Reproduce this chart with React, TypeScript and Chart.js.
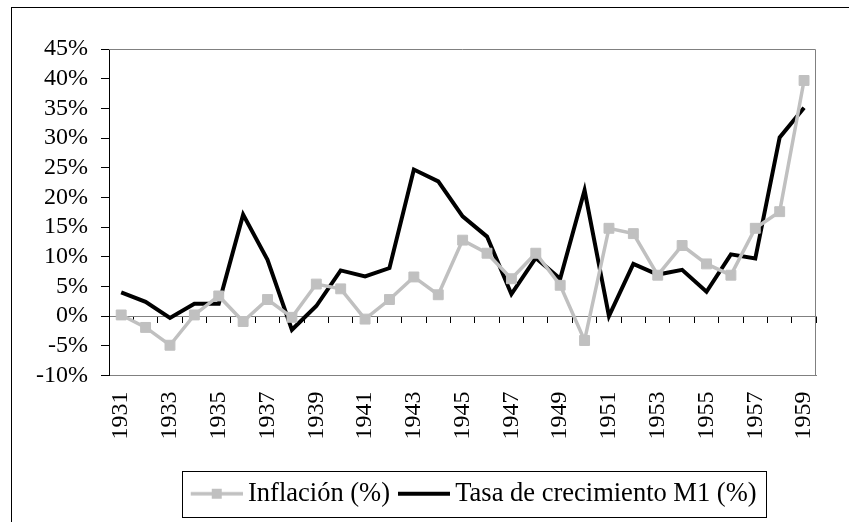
import React, { useEffect, useRef } from 'react';
import { Chart, registerables } from 'chart.js';

Chart.register(...registerables);

const years = [
  '1931', '1932', '1933', '1934', '1935', '1936', '1937', '1938', '1939', '1940',
  '1941', '1942', '1943', '1944', '1945', '1946', '1947', '1948', '1949', '1950',
  '1951', '1952', '1953', '1954', '1955', '1956', '1957', '1958', '1959',
];

const inflation = [
  0.2, -1.9, -4.9, 0.2, 3.4, -0.9, 2.8, -0.2, 5.4, 4.6,
  -0.5, 2.8, 6.6, 3.6, 12.8, 10.6, 6.3, 10.6, 5.2, -4.1,
  14.8, 13.9, 6.9, 11.9, 8.8, 6.9, 14.8, 17.6, 39.7,
];

const m1Growth = [
  4.0, 2.4, -0.3, 2.1, 2.1, 17.1, 9.5, -2.3, 1.7, 7.7,
  6.7, 8.1, 24.7, 22.7, 16.8, 13.4, 3.7, 9.8, 6.3, 21.2,
  0.0, 8.8, 7.0, 7.8, 4.1, 10.4, 9.7, 30.1, 35.1,
];

const seriesNames = ['Inflación (%)', 'Tasa de crecimiento M1 (%)'];
const yMin = -10;
const yMax = 45;
const yStep = 5;
const xLabelEvery = 2;

const GRAY = '#C0C0C0';
const FONT = 'Liberation Serif';
const LEGEND_FONT = 26.5;
const LEGEND_PAD = 8;
const LEGEND_SHIFT = 11;

function makeSample(withSquare: boolean, color: string, lw: number) {
  const c = document.createElement('canvas');
  c.width = 60;
  c.height = 12;
  const g = c.getContext('2d')!;
  g.strokeStyle = color;
  g.lineWidth = lw;
  g.beginPath();
  g.moveTo(8, 6);
  g.lineTo(60, 6);
  g.stroke();
  if (withSquare) {
    g.fillStyle = color;
    g.fillRect(29, 1, 10, 10);
  }
  return c;
}

export default function App() {
  const ref = useRef<HTMLCanvasElement | null>(null);

  useEffect(() => {
    if (!ref.current) return;
    const samples = [makeSample(true, GRAY, 3.5), makeSample(false, '#000', 4)];

    const framePlugin = {
      id: 'plotFrame',
      beforeDatasetsDraw(chart: any) {
        const { ctx, chartArea } = chart;
        ctx.save();
        ctx.strokeStyle = '#808080';
        ctx.lineWidth = 1;
        ctx.beginPath();
        const t = Math.round(chartArea.top) + 0.5;
        const r = Math.round(chartArea.right) - 0.5;
        ctx.moveTo(chartArea.left, t);
        ctx.lineTo(r, t);
        ctx.lineTo(r, chartArea.bottom);
        ctx.stroke();
        ctx.restore();
      },
    };

    const legendBoxPlugin = {
      id: 'legendBox',
      afterLayout(chart: any) {
        const lg = chart.legend;
        if (!lg) return;
        lg.left += LEGEND_SHIFT;
        lg.right += LEGEND_SHIFT;
      },
      afterDraw(chart: any) {
        const lg = chart.legend;
        if (!lg || !lg.legendHitBoxes || !lg.legendHitBoxes.length) return;
        const hb = lg.legendHitBoxes;
        const n = hb.length;
        let sumW = 0;
        hb.forEach((b: any) => {
          sumW += b.width;
        });
        const lw = sumW + LEGEND_PAD * n;
        const start = (lg.left + LEGEND_PAD + lg.right - lw) / 2;
        const end = start + sumW + LEGEND_PAD * (n - 1);
        const cy = lg.top + LEGEND_PAD + LEGEND_FONT / 2;
        const ctx = chart.ctx;
        ctx.save();
        ctx.strokeStyle = '#000';
        ctx.lineWidth = 1;
        const x0 = Math.round(start - 9) + 0.5;
        const x1 = Math.round(end + 9) + 0.5;
        const y0 = Math.round(cy - 23) + 0.5;
        ctx.strokeRect(x0, y0, x1 - x0, 46);
        ctx.restore();
      },
    };

    const chart = new Chart(ref.current, {
      type: 'line',
      data: {
        labels: years,
        datasets: [
          {
            label: seriesNames[0],
            data: inflation,
            borderColor: GRAY,
            backgroundColor: GRAY,
            borderWidth: 3.5,
            pointStyle: 'rect',
            pointRadius: 7,
            pointBorderWidth: 1,
            pointBackgroundColor: GRAY,
            pointBorderColor: GRAY,
            tension: 0,
          },
          {
            label: seriesNames[1],
            data: m1Growth,
            borderColor: '#000',
            backgroundColor: '#000',
            borderWidth: 4,
            pointRadius: 0,
            tension: 0,
          },
        ],
      },
      options: {
        responsive: false,
        animation: false,
        layout: { padding: { top: 49, right: 7, left: 36, bottom: 5 } },
        plugins: {
          tooltip: { enabled: false },
          legend: {
            position: 'bottom',
            fullSize: false,
            labels: {
              usePointStyle: true,
              pointStyleWidth: 44,
              padding: LEGEND_PAD,
              color: '#000',
              font: { family: FONT, size: LEGEND_FONT },
              generateLabels: (ch: any) => {
                const items = (Chart.defaults.plugins.legend.labels as any).generateLabels(ch);
                items.forEach((it: any, i: number) => {
                  it.pointStyle = samples[i];
                });
                return items;
              },
            },
          },
        },
        scales: {
          x: {
            type: 'category',
            position: 'bottom',
            offset: true,
            grid: { display: false, drawTicks: false },
            border: { display: true, color: '#808080', width: 1 },
            ticks: {
              autoSkip: false,
              minRotation: 90,
              maxRotation: 90,
              padding: 16,
              color: '#000',
              font: { family: FONT, size: 24 },
              callback: (_v: any, i: number) => (i % xLabelEvery === 0 ? years[i] : ''),
            },
            afterFit: (s: any) => {
              s.height = 97;
            },
          },
          x2: {
            type: 'category',
            axis: 'x',
            position: { y: 0 },
            offset: true,
            grid: {
              display: true,
              drawOnChartArea: false,
              drawTicks: true,
              tickLength: 6,
              offset: true,
              color: '#000',
            },
            border: { display: true, color: '#808080', width: 1 },
            ticks: { display: false, autoSkip: false },
          },
          y: {
            type: 'linear',
            position: 'left',
            min: yMin,
            max: yMax,
            grid: { drawOnChartArea: false, drawTicks: true, tickLength: 8, color: '#000' },
            border: { display: true, color: '#000', width: 1 },
            ticks: {
              stepSize: yStep,
              autoSkip: false,
              padding: 13,
              color: '#000',
              font: { family: FONT, size: 24 },
              callback: (v: any) => `${v}%`,
            },
            afterFit: (s: any) => {
              s.width = 73;
            },
          },
        },
      } as any,
      plugins: [framePlugin, legendBoxPlugin],
    });

    return () => chart.destroy();
  }, []);

  return (
    <div style={{ position: 'fixed', left: 0, top: 0, width: 849, height: 522, background: '#fff', overflow: 'hidden' }}>
      <div
        style={{
          position: 'absolute',
          left: 11,
          top: 7,
          width: 900,
          height: 600,
          borderLeft: '1px solid #000',
          borderTop: '1px solid #000',
        }}
      />
      <canvas ref={ref} width={849} height={522} style={{ position: 'absolute', left: 0, top: 0, display: 'block' }} />
    </div>
  );
}
